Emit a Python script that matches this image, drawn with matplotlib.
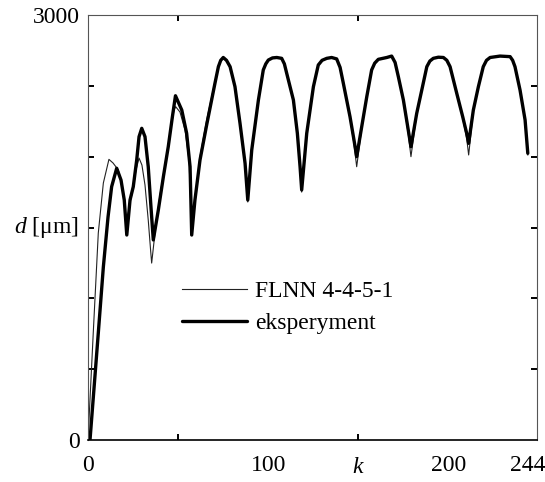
import matplotlib
import matplotlib.pyplot as plt

matplotlib.use('Agg')

plt.rcParams['font.family'] = ['Liberation Serif', 'DejaVu Serif']
plt.rcParams['mathtext.fontset'] = 'custom'
plt.rcParams['mathtext.rm'] = 'Liberation Serif'
plt.rcParams['mathtext.it'] = 'Liberation Serif:italic'

# measured displacement (eksperyment), thick curve
k_exp = [1.1, 5.7, 8.5, 11.1, 13.1, 15.9, 18.3, 20.1, 21.5, 23.3, 25.1, 27.0, 28.3, 29.8,
         31.6, 33.4, 34.9, 36.2, 39.0, 41.8, 44.5, 46.8, 48.5, 52.0, 54.7, 56.6, 57.5,
         59.3, 62.1, 65.8, 70.4, 72.3, 73.6, 75.0, 76.8, 78.8, 81.5, 84.3, 87.1, 88.6,
         90.8, 94.5, 97.2, 98.6, 100.0, 102.3, 104.7, 107.4, 108.9, 110.2, 113.9, 116.1,
         117.6, 118.5,
         121.3, 125.0, 127.7, 129.8, 132.4, 135.1, 137.9, 139.8, 141.6, 145.3, 147.5, 149.0,
         151.8, 154.6, 157.3, 159.0, 161.0, 165.7, 168.4, 170.3, 172.1, 174.9, 177.6, 179.1,
         182.3, 185.1, 187.9, 189.6, 191.5, 194.3, 197.1, 199.0, 200.8, 204.5, 207.8, 210.0,
         211.1,
         213.7, 216.5, 219.2, 221.0, 223.0, 228.5, 234.1, 235.5, 236.8, 239.6, 242.4, 243.9]
d_exp = [0, 755, 1221, 1574, 1788, 1918, 1835, 1694, 1447, 1694, 1788, 1976, 2141, 2200,
         2141, 1929, 1647, 1412, 1624, 1859, 2070, 2282, 2430, 2329, 2165, 1929, 1447,
         1694, 1976, 2224, 2518, 2635, 2680, 2700, 2680, 2635, 2494, 2235, 1953, 1694,
         2047, 2400, 2612, 2655, 2682, 2697, 2700, 2694, 2655, 2588, 2400, 2165,
         1929, 1765,
         2165, 2494, 2647, 2680, 2694, 2700, 2690, 2630, 2518, 2282, 2118, 2000,
         2212, 2423, 2612, 2660, 2687, 2700, 2710, 2665, 2565, 2400, 2188, 2070,
         2306, 2470, 2635, 2675, 2694, 2702, 2700, 2680, 2635, 2447, 2282, 2165,
         2094,
         2329, 2494, 2635, 2680, 2700, 2710, 2706, 2680, 2635, 2470, 2259, 2024]

# FLNN 4-4-5-1 model output, thin curve
k_flnn = [0.0, 2.9, 5.7, 8.5, 11.6, 13.9, 16.8, 18.9, 20.2, 21.5, 23.3, 25.1, 26.6, 28.3,
          29.9, 31.6, 33.4, 34.7, 35.3, 37.2, 39.9, 42.7, 45.5, 47.7, 48.6, 51.0, 53.8,
          56.0, 57.2, 57.5,
          59.3, 62.1, 65.8, 70.4, 72.3, 73.6, 75.0, 76.8, 78.8, 81.5, 84.3, 87.1, 88.6,
          90.8, 94.5, 97.2, 98.6, 100.0, 102.3, 104.7, 107.4, 108.9, 110.2, 113.9, 116.1,
          117.6, 118.5,
          121.3, 125.0, 127.7, 129.8, 132.4, 135.1, 137.9, 139.8, 141.6, 145.3, 147.5, 149.0,
          151.8, 154.6, 157.3, 159.0, 161.0, 165.7, 168.4, 170.3, 172.1, 174.9, 177.6, 179.1,
          182.3, 185.1, 187.9, 189.6, 191.5, 194.3, 197.1, 199.0, 200.8, 204.5, 207.8, 210.0,
          211.1,
          213.7, 216.5, 219.2, 221.0, 223.0, 228.5, 234.1, 235.5, 236.8, 239.6, 242.4, 243.9]
d_flnn = [0, 755, 1461, 1814, 1981, 1955, 1906, 1800, 1659, 1539, 1673, 1779, 1906, 1990,
          1941, 1800, 1553, 1341, 1249, 1468, 1729, 1941, 2167, 2329, 2353, 2315, 2188,
          1976, 1588, 1496,
          1694, 2000, 2260, 2530, 2640, 2682, 2695, 2676, 2630, 2490, 2230, 1940, 1680,
          2040, 2395, 2610, 2652, 2680, 2695, 2700, 2690, 2650, 2580, 2395, 2155,
          1915, 1750,
          2160, 2490, 2645, 2678, 2694, 2698, 2688, 2625, 2510, 2270, 2090, 1929,
          2200, 2420, 2610, 2658, 2685, 2700, 2708, 2662, 2560, 2390, 2160, 2000,
          2300, 2465, 2630, 2672, 2692, 2700, 2700, 2678, 2630, 2440, 2270, 2130,
          2012,
          2320, 2490, 2632, 2678, 2700, 2710, 2704, 2678, 2630, 2465, 2250, 2012]

x_labels = ['0', '100', '200', '244']
x_label_pos = [0, 100, 200, 244]

fig = plt.figure(figsize=(5.45, 4.82), dpi=100)
ax = fig.add_axes([0.1615, 0.0871, 0.8238, 0.8818])

ax.plot(k_flnn, d_flnn, color='#222222', lw=0.8, label='FLNN 4-4-5-1',
        solid_joinstyle='round')
ax.plot(k_exp, d_exp, color='black', lw=2.4, label='eksperyment',
        solid_joinstyle='round', solid_capstyle='round')

ax.set_xlim(0, 249)
ax.set_ylim(0, 3000)

# labelled ticks without marks, short inward marks as minor ticks
ax.set_xticks(x_label_pos, labels=x_labels)
ax.set_yticks([0, 3000], labels=['0', '3000'])
ax.set_xticks([50, 100, 150, 200], minor=True)
ax.set_yticks([500, 1000, 1500, 2000, 2500], minor=True)
ax.tick_params(which='major', length=0, labelsize=17)
ax.tick_params(axis='x', which='major', pad=11)
ax.tick_params(axis='y', which='major', pad=6)
ax.tick_params(which='minor', direction='in', length=4, width=1.4,
               top=True, right=True, color='black')

for side in ['top', 'right', 'left']:
    ax.spines[side].set_color('#555555')
    ax.spines[side].set_linewidth(0.8)
ax.spines['bottom'].set_linewidth(1.2)

ax.set_xlabel('k', style='italic', fontsize=17)
ax.xaxis.set_label_coords(0.6, -0.04)
ax.xaxis.label.set_va('top')
ax.set_ylabel('$d$ [μm]', fontsize=17, rotation=0, ha='right', va='center')
ax.yaxis.set_label_coords(-0.02, 0.5)

ax.legend(loc='upper left', bbox_to_anchor=(0.209, 0.375), frameon=False,
          fontsize=17, handlelength=2.75, handletextpad=0.35, labelspacing=0.45,
          borderpad=0, borderaxespad=0)

fig.savefig('out.png', dpi=100)
